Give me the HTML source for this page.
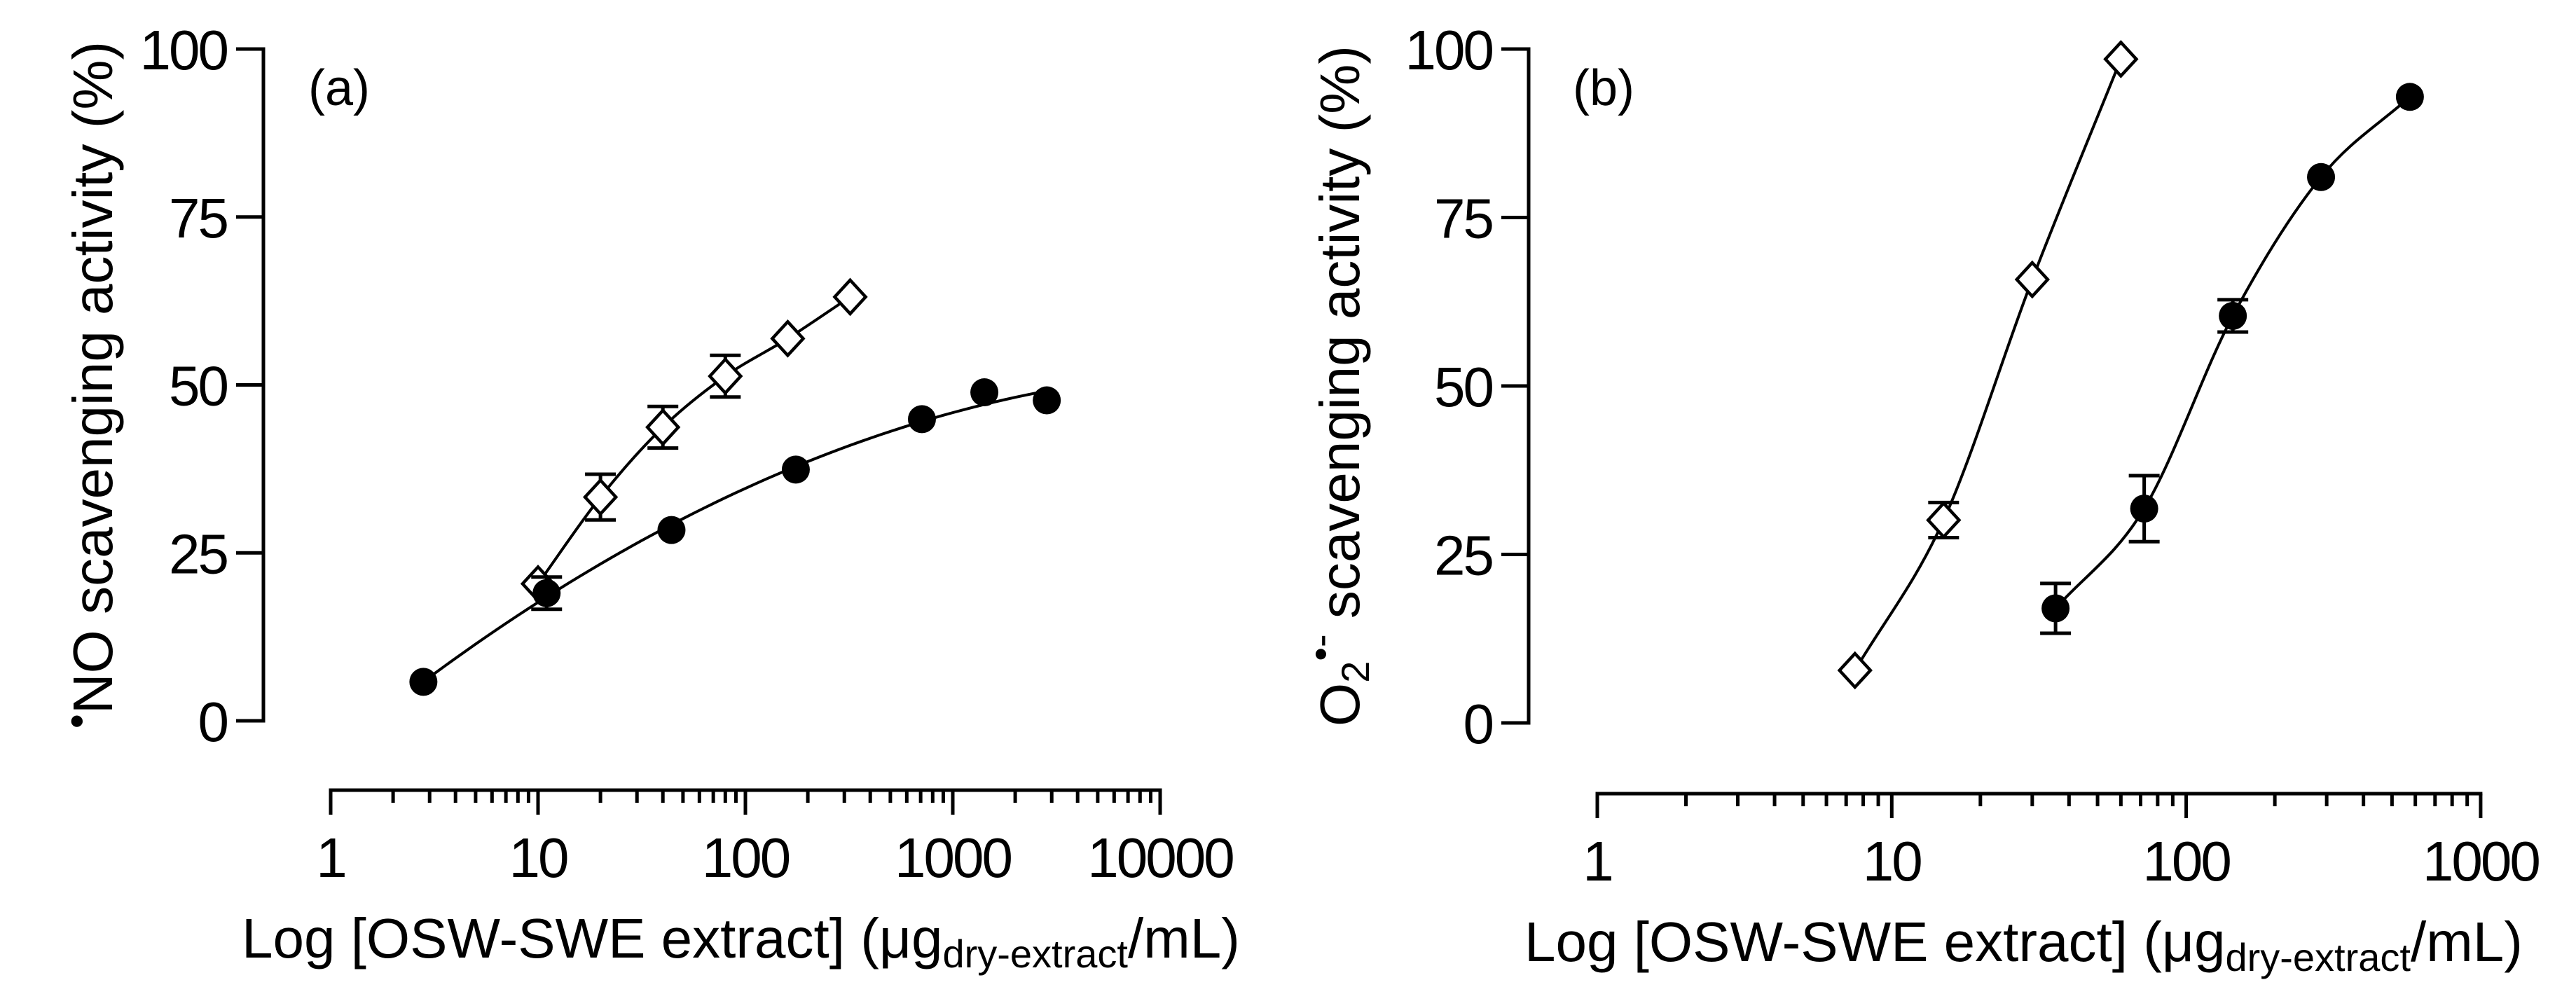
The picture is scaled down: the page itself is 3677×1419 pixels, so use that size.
<!DOCTYPE html>
<html><head><meta charset="utf-8"><style>
html,body{margin:0;padding:0;background:#fff}
svg{display:block;font-family:"Liberation Sans",Arial,sans-serif}
</style></head><body>
<svg id="fig" width="3677" height="1419" viewBox="0 0 3677 1419" xmlns="http://www.w3.org/2000/svg"></svg>
<script>
// ---- Panel (a) data: NO scavenging ----
const aCircX = [2.8, 11, 44, 175, 710, 1420, 2840];
const aCircY = [5.8, 19, 28.4, 37.4, 44.9, 48.9, 47.7];
const aCircErr = [0, 2.4, 0, 0, 0, 0, 0];
const aDiaX = [10, 20, 40, 80, 160, 320];
const aDiaY = [20.4, 33.3, 43.7, 51.3, 56.9, 63.1];
const aDiaErr = [0, 3.4, 3.1, 3.1, 0, 0];
const aXTicks = [1, 10, 100, 1000, 10000];
const aXTickLabels = ["1", "10", "100", "1000", "10000"];
// ---- Panel (b) data: O2 scavenging ----
const bCircX = [36, 72, 144, 287, 575];
const bCircY = [17.0, 31.8, 60.4, 81.0, 92.9];
const bCircErr = [3.7, 4.9, 2.4, 0, 0];
const bDiaX = [7.5, 15, 30, 60];
const bDiaY = [7.8, 30.1, 65.8, 98.5];
const bDiaErr = [0, 2.6, 0, 0];
const bXTicks = [1, 10, 100, 1000];
const bXTickLabels = ["1", "10", "100", "1000"];
const yTicks = [0, 25, 50, 75, 100];
const yTickLabels = ["0", "25", "50", "75", "100"];

const NS = "http://www.w3.org/2000/svg";
const svg = document.getElementById("fig");
function mk(tag, attrs, parent) {
  const e = document.createElementNS(NS, tag);
  for (const k in attrs) e.setAttribute(k, attrs[k]);
  (parent || svg).appendChild(e);
  return e;
}

function monotone(xs, ys) {
  const n = xs.length; if (n < 2) return "";
  const d = [], m = [];
  for (let i = 0; i < n - 1; i++) d.push((ys[i+1]-ys[i])/(xs[i+1]-xs[i]));
  m.push(d[0]);
  for (let i = 1; i < n - 1; i++) m.push(d[i-1]*d[i] <= 0 ? 0 : (d[i-1]+d[i])/2);
  m.push(d[n-2]);
  let p = "M" + xs[0] + "," + ys[0];
  for (let i = 0; i < n - 1; i++) {
    const h = xs[i+1]-xs[i];
    p += " C" + (xs[i]+h/3) + "," + (ys[i]+m[i]*h/3) + " " + (xs[i+1]-h/3) + "," + (ys[i+1]-m[i+1]*h/3) + " " + xs[i+1] + "," + ys[i+1];
  }
  return p;
}

// least squares quadratic in (log x, y)
function quadFit(lx, ys) {
  const S = [[0,0,0],[0,0,0],[0,0,0]], b = [0,0,0];
  lx.forEach((x, i) => {
    const p = [1, x, x*x];
    for (let r = 0; r < 3; r++) { b[r] += p[r]*ys[i]; for (let c = 0; c < 3; c++) S[r][c] += p[r]*p[c]; }
  });
  // gaussian elimination
  for (let i = 0; i < 3; i++) {
    for (let j = i+1; j < 3; j++) {
      const f = S[j][i]/S[i][i];
      for (let k = i; k < 3; k++) S[j][k] -= f*S[i][k];
      b[j] -= f*b[i];
    }
  }
  const c = [0,0,0];
  for (let i = 2; i >= 0; i--) {
    let s = b[i];
    for (let k = i+1; k < 3; k++) s -= S[i][k]*c[k];
    c[i] = s/S[i][i];
  }
  return x => c[0] + c[1]*x + c[2]*x*x;
}

function panel(cfg) {
  const g = mk("g", {});
  
  
  const X = v => cfg.x0 + Math.log10(v) * cfg.dec;
  const Y = v => cfg.y0 - v / 100 * (cfg.y0 - cfg.y100);
  const ya = mk("line", {x1: cfg.yax, y1: Y(100)-2.5, x2: cfg.yax, y2: Y(0)+2.5, stroke: "#000", "stroke-width": 5}, g);
  
  
  yTicks.forEach((t, i) => {
    const tk = mk("line", {x1: cfg.yax-39, y1: Y(t), x2: cfg.yax, y2: Y(t), stroke: "#000", "stroke-width": 5}, g);
    
    
    const lb = mk("text", {x: cfg.yax-52, y: Y(t)+29, "font-size": 80, "text-anchor": "end", "letter-spacing": -3}, g);
    lb.textContent = yTickLabels[i];
    
    
  });
  const xMax = cfg.xt[cfg.xt.length-1];
  const xa = mk("line", {x1: X(1)-2.5, y1: cfg.xay, x2: X(xMax)+2.5, y2: cfg.xay, stroke: "#000", "stroke-width": 5}, g);
  
  
  cfg.xt.forEach((t, i) => {
    const tk = mk("line", {x1: X(t), y1: cfg.xay, x2: X(t), y2: cfg.xay+35, stroke: "#000", "stroke-width": 5}, g);
    
    
    const lb = mk("text", {x: X(t), y: cfg.xay+124, "font-size": 80, "text-anchor": "middle", "letter-spacing": -3}, g);
    lb.textContent = cfg.xtl[i];
    
    
    if (t < xMax) for (let k = 2; k <= 9; k++) {
      const mt = mk("line", {x1: X(t*k), y1: cfg.xay, x2: X(t*k), y2: cfg.xay+18, stroke: "#000", "stroke-width": 5}, g);
      
      
    }
  });
  const xt = mk("text", {x: cfg.xtx, y: cfg.xay+239, "font-size": 80}, g);
  
  
  xt.innerHTML = 'Log [OSW-SWE extract] (μg<tspan font-size="56" dy="14">dry-extract</tspan><tspan dy="-14">/mL)</tspan>';
  const yt = mk("text", {x: 0, y: 0, "font-size": 80, "text-anchor": "middle", transform: "translate(" + cfg.ytx + "," + ((Y(0)+Y(100))/2) + ") rotate(-90)"}, g);
  
  
  yt.innerHTML = cfg.ytitle;
  const pl = mk("text", {x: cfg.plx, y: 150, "font-size": 72}, g);
  pl.textContent = cfg.label;
  
  

  function series(xs, ys, es, kind, sname, fitQuad) {
    const px = xs.map(X), py = ys.map(Y);
    let d;
    if (fitQuad) {
      const lx = xs.map(v => Math.log10(v));
      const f = quadFit(lx, ys);
      const a = lx[0], bb = lx[lx.length-1];
      d = "";
      for (let s = 0; s <= 60; s++) {
        const l = a + (bb - a) * s / 60;
        d += (s ? " L" : "M") + X(Math.pow(10, l)) + "," + Y(f(l));
      }
    } else d = monotone(px, py);
    const c = mk("path", {d: d, fill: "none", stroke: "#000", "stroke-width": 4}, g);
    
    
    xs.forEach((v, i) => {
      if (es[i] > 0) {
        const eb = mk("path", {d: "M" + (px[i]-22) + "," + Y(ys[i]+es[i]) + " h44 M" + px[i] + "," + Y(ys[i]+es[i]) + " V" + Y(ys[i]-es[i]) + " M" + (px[i]-22) + "," + Y(ys[i]-es[i]) + " h44", fill: "none", stroke: "#000", "stroke-width": 5}, g);
        
        
      }
      let m;
      if (kind === "circle") {
        m = mk("circle", {cx: px[i], cy: py[i], r: 20, fill: "#000"}, g);
      } else {
        const r = 24;
        m = mk("path", {d: "M" + px[i] + "," + (py[i]-r) + " L" + (px[i]+r*0.92) + "," + py[i] + " L" + px[i] + "," + (py[i]+r) + " L" + (px[i]-r*0.92) + "," + py[i] + "Z", fill: "#fff", stroke: "#000", "stroke-width": 4.5}, g);
      }
      
      
    });
  }
  series(cfg.dx, cfg.dy, cfg.de, "diamond", "diamond-series", false);
  series(cfg.cx, cfg.cy, cfg.ce, "circle", "circle-series", cfg.quadCircles);
}

panel({name: "panel-a", x0: 472, dec: 296, y0: 1029, y100: 70, yax: 376, xay: 1128,
  xt: aXTicks, xtl: aXTickLabels, xtx: 345, ytx: 160, plx: 440, label: "(a)", quadCircles: true,
  ytitle: '<tspan font-size="60" dy="-30">•</tspan><tspan dy="30">NO scavenging activity (%)</tspan>',
  cx: aCircX, cy: aCircY, ce: aCircErr, dx: aDiaX, dy: aDiaY, de: aDiaErr});
panel({name: "panel-b", x0: 2280, dec: 420.3, y0: 1032, y100: 70, yax: 2182, xay: 1133,
  xt: bXTicks, xtl: bXTickLabels, xtx: 2176, ytx: 1940, plx: 2245, label: "(b)", quadCircles: false,
  ytitle: 'O<tspan font-size="56" dy="14">2</tspan><tspan font-size="56" dy="-50">•-</tspan><tspan dy="36"> scavenging activity (%)</tspan>',
  cx: bCircX, cy: bCircY, ce: bCircErr, dx: bDiaX, dy: bDiaY, de: bDiaErr});
</script>
</body></html>
